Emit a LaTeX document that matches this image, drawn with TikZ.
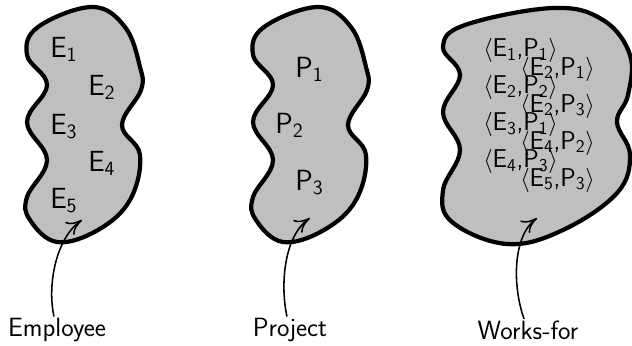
\documentclass[tikz,border=0pt]{standalone}
\usepackage{tikz}
\usetikzlibrary{arrows,arrows.meta,positioning}

\tikzset{bean/.pic={
	\draw[blob] plot[smooth cycle,tension=0.65] coordinates {
		(92,338) (125,318) (140,278) (141,255) (122,220) (140,190) (130,145) (98,115)
		(57,103) (30,125) (27,148) (47,185) (27,223) (47,260) (27,290) (38,318)};
}}

\begin{document}
\begin{tikzpicture}[x=0.025cm,y=0.025cm,font=\sffamily,
	blob/.style={draw,line width=3pt,fill=lightgray},
	elem/.style={inner sep=0pt,anchor=base west,font=\sffamily\huge},
	pair/.style={inner sep=0pt,anchor=base west,font=\sffamily\fontsize{18.3}{22}\selectfont},
	setname/.style={inner sep=1pt,font=\sffamily\fontsize{18.8}{22}\selectfont},
	pointer/.style={-{To[length=11pt,width=11pt]},line width=1.1pt}]
	\useasboundingbox (0,0) rectangle (632,345);

	% the three sets
	\pic at (0,0) {bean};
	\pic at (226,0) {bean};
	\draw[blob] plot[smooth cycle,tension=0.65] coordinates {
		(553,337) (603,325) (630,290) (628,250) (617,223) (630,190) (617,152) (563,115)
		(507,101) (452,123) (443,155) (460,195) (443,233) (460,270) (443,298) (465,320)};

	% Employee
	\node[elem] (e1) at (50,288) {E\textsubscript{1}};
	\node[elem] (e2) at (88,250) {E\textsubscript{2}};
	\node[elem] (e3) at (50,211) {E\textsubscript{3}};
	\node[elem] (e4) at (88,174) {E\textsubscript{4}};
	\node[elem] (e5) at (50,137) {E\textsubscript{5}};

	% Project
	\node[elem] (p1) at (295,268) {P\textsubscript{1}};
	\node[elem] (p2) at (275,212) {P\textsubscript{2}};
	\node[elem] (p3) at (295,155) {P\textsubscript{3}};

	% Works-for
	\node[pair] (w1) at (483,288.5) {$\langle$E\textsubscript{1},P\textsubscript{1}$\rangle$};
	\node[pair] (w2) at (520,270) {$\langle$E\textsubscript{2},P\textsubscript{1}$\rangle$};
	\node[pair] (w3) at (483,251.5) {$\langle$E\textsubscript{2},P\textsubscript{2}$\rangle$};
	\node[pair] (w4) at (520,233) {$\langle$E\textsubscript{2},P\textsubscript{3}$\rangle$};
	\node[pair] (w5) at (483,214.5) {$\langle$E\textsubscript{3},P\textsubscript{1}$\rangle$};
	\node[pair] (w6) at (520,196) {$\langle$E\textsubscript{4},P\textsubscript{2}$\rangle$};
	\node[pair] (w7) at (483,177.5) {$\langle$E\textsubscript{4},P\textsubscript{3}$\rangle$};
	\node[pair] (w8) at (520,159) {$\langle$E\textsubscript{5},P\textsubscript{3}$\rangle$};

	% names
	\node[setname] (emp) at (57,15) {Employee};
	\node[setname] (proj) at (290,15) {Project};
	\node[setname] (works) at (528,15) {Works-for};

	\coordinate (emp-in) at (82,125);
	\coordinate (proj-in) at (310,127);
	\coordinate (works-in) at (537,127);

	\draw[pointer] (emp) .. controls +(-10,45) and +(-26,-18) .. (emp-in);
	\draw[pointer] (proj) .. controls +(-10,45) and +(-26,-18) .. (proj-in);
	\draw[pointer] (works) .. controls +(-16,45) and +(-24,-18) .. (works-in);
\end{tikzpicture}
\end{document}
